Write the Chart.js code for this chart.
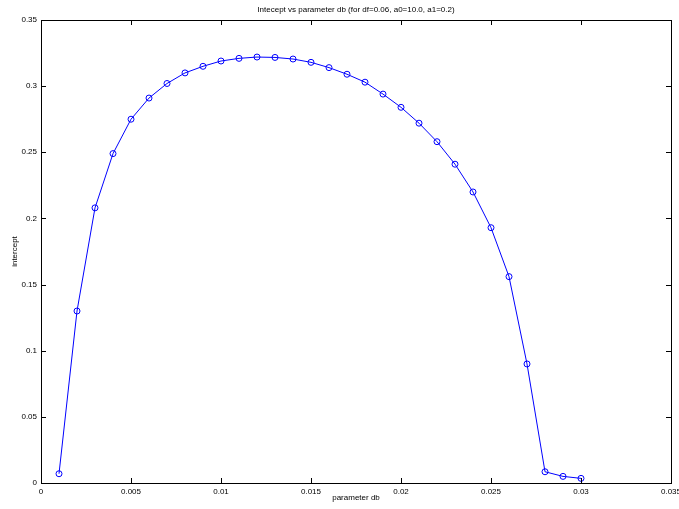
<!DOCTYPE html>
<html>
<head>
<meta charset="utf-8">
<script src="https://cdn.jsdelivr.net/npm/chart.js@4"></script>
<style>
  html, body { margin: 0; padding: 0; background: #fff; }
  #wrap { width: 679px; height: 509px; }
</style>
</head>
<body>
<div id="wrap"><canvas id="intercept"></canvas></div>
<script>
const dbValues = [0.001, 0.002, 0.003, 0.004, 0.005, 0.006, 0.007, 0.008, 0.009, 0.010,
  0.011, 0.012, 0.013, 0.014, 0.015, 0.016, 0.017, 0.018, 0.019, 0.020,
  0.021, 0.022, 0.023, 0.024, 0.025, 0.026, 0.027, 0.028, 0.029, 0.030];
const interceptValues = [0.007, 0.130, 0.208, 0.249, 0.275, 0.291, 0.302, 0.310, 0.315, 0.319,
  0.321, 0.322, 0.3217, 0.3205, 0.318, 0.314, 0.309, 0.303, 0.294, 0.284,
  0.272, 0.258, 0.241, 0.220, 0.193, 0.156, 0.090, 0.0085, 0.005, 0.0035];
const xTicks = [0, 0.005, 0.01, 0.015, 0.02, 0.025, 0.03, 0.035];
const yTicks = [0, 0.05, 0.1, 0.15, 0.2, 0.25, 0.3, 0.35];

const titleText = 'Intecept vs parameter db (for df=0.06, a0=10.0, a1=0.2)';
const fontFamily = '"Liberation Sans", Helvetica, Arial, sans-serif';
Chart.defaults.font.family = fontFamily;
Chart.defaults.font.size = 8;
Chart.defaults.color = '#000';

// matlab style box with inward ticks on all four sides
const boxPlugin = {
  id: 'box',
  afterDraw(chart) {
    const { ctx, chartArea: a, scales } = chart;
    ctx.save();
    ctx.strokeStyle = '#000';
    ctx.lineWidth = 1;
    ctx.beginPath();
    xTicks.forEach(v => {
      const px = Math.round(scales.x.getPixelForValue(v)) + 0.5;
      ctx.moveTo(px, a.bottom); ctx.lineTo(px, a.bottom - 5);
      ctx.moveTo(px, a.top); ctx.lineTo(px, a.top + 5);
    });
    yTicks.forEach(v => {
      const py = Math.round(scales.y.getPixelForValue(v)) + 0.5;
      ctx.moveTo(a.left, py); ctx.lineTo(a.left + 5, py);
      ctx.moveTo(a.right, py); ctx.lineTo(a.right - 5, py);
    });
    ctx.stroke();
    ctx.strokeRect(Math.round(a.left) + 0.5, Math.round(a.top) + 0.5,
      Math.round(a.right - a.left), Math.round(a.bottom - a.top));
    ctx.font = '8px ' + fontFamily;
    ctx.textAlign = 'center';
    ctx.textBaseline = 'middle';
    ctx.fillStyle = '#000';
    ctx.fillText(titleText, (a.left + a.right) / 2, 10);
    ctx.restore();
  }
};

new Chart(document.getElementById('intercept'), {
  type: 'line',
  data: {
    datasets: [{
      label: 'intercept',
      data: dbValues.map((x, i) => ({ x: x, y: interceptValues[i] })),
      borderColor: '#0000ff',
      borderWidth: 1,
      backgroundColor: 'rgba(0,0,0,0)',
      pointRadius: 3,
      pointBorderColor: '#0000ff',
      pointBorderWidth: 1,
      pointBackgroundColor: 'rgba(0,0,0,0)',
      tension: 0
    }]
  },
  options: {
    responsive: true,
    maintainAspectRatio: false,
    animation: false,
    layout: { padding: { top: 20, right: 8, bottom: 0, left: 0 } },
    plugins: {
      legend: { display: false },
      tooltip: { enabled: false }
    },
    scales: {
      x: {
        type: 'linear',
        min: 0,
        max: 0.035,
        afterBuildTicks: s => { s.ticks = xTicks.map(v => ({ value: v })); },
        afterFit: s => { s.height = 26; s.paddingRight = 0; s.paddingLeft = 0; },
        grid: { display: false, drawTicks: false },
        border: { display: false },
        ticks: { padding: 4, maxRotation: 0, autoSkip: false, callback: v => String(+v.toFixed(3)) },
        title: { display: true, text: 'parameter db', padding: { top: 0, bottom: 6 } }
      },
      y: {
        min: 0,
        max: 0.35,
        afterBuildTicks: s => { s.ticks = yTicks.map(v => ({ value: v })); },
        afterFit: s => { s.width = 41; },
        grid: { display: false, drawTicks: false },
        border: { display: false },
        ticks: { padding: 4, autoSkip: false, callback: v => String(+v.toFixed(2)) },
        title: { display: true, text: 'intercept', padding: { top: 10, bottom: 0 } }
      }
    }
  },
  plugins: [boxPlugin]
});
</script>
</body>
</html>
